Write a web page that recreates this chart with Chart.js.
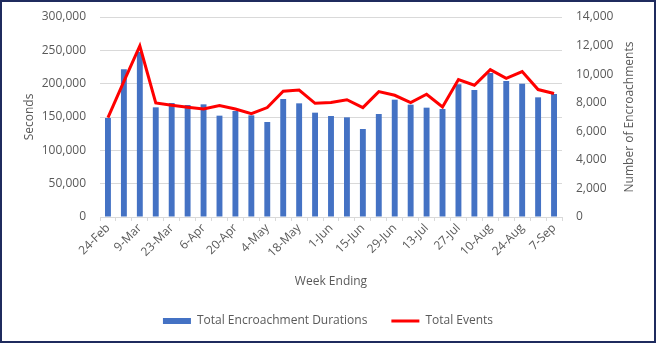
<!DOCTYPE html>
<html>
<head>
<meta charset="utf-8">
<script src="https://cdn.jsdelivr.net/npm/chart.js@4.4.0/dist/chart.umd.min.js"></script>
<style>
  html, body { margin: 0; padding: 0; background: #fff; }
  #frame {
    position: absolute; left: 0; top: 0;
    width: 652px; height: 339px;
    border: 2px solid #1f2b5e;
    background: #fff;
  }
  canvas { display: block; }
</style>
</head>
<body>
<div id="frame"><canvas id="chart" width="652" height="339"></canvas></div>
<script>
// week ending dates
const weeks = ['24-Feb', '2-Mar', '9-Mar', '16-Mar', '23-Mar', '30-Mar', '6-Apr', '13-Apr', '20-Apr', '27-Apr',
    '4-May', '11-May', '18-May', '25-May', '1-Jun', '8-Jun', '15-Jun', '22-Jun', '29-Jun', '6-Jul',
    '13-Jul', '20-Jul', '27-Jul', '3-Aug', '10-Aug', '17-Aug', '24-Aug', '31-Aug', '7-Sep'];

// seconds (left axis)
const durations = [148500, 221500, 247500, 164500, 171000, 168000, 169000, 152000, 159000, 152500,
    142500, 177000, 170500, 156500, 151500, 149500, 132000, 154500, 176000, 168500,
    164000, 162000, 199000, 190500, 216000, 204000, 200000, 179500, 184500];

// number of encroachments (right axis)
const events = [6950, 9500, 11970, 7980, 7820, 7680, 7560, 7800, 7560, 7240,
    7660, 8800, 8890, 7960, 8010, 8210, 7660, 8780, 8520, 8010,
    8590, 7700, 9620, 9220, 10320, 9710, 10180, 8920, 8640];

const grey = '#595959';
Chart.defaults.font.family = "'Open Sans', sans-serif";
Chart.defaults.font.size = 12;
Chart.defaults.color = grey;

// titulo do eixo direito, lido de baixo para cima como no Excel
const rightTitle = {
    id: 'rightTitle',
    afterDraw(chart) {
        const { ctx, chartArea } = chart;
        ctx.save();
        ctx.translate(chart.width - 24, (chartArea.top + chartArea.bottom) / 2);
        ctx.rotate(-Math.PI / 2);
        ctx.textAlign = 'center';
        ctx.textBaseline = 'middle';
        ctx.fillStyle = grey;
        ctx.font = "12px 'Open Sans', sans-serif";
        ctx.fillText('Number of Encroachments', 0, 0);
        ctx.restore();
    }
};

new Chart(document.getElementById('chart'), {
    data: {
        labels: weeks,
        datasets: [
            {
                type: 'line', label: 'Total Events', data: events, yAxisID: 'y1',
                borderColor: '#ff0000', backgroundColor: '#ff0000', borderWidth: 3,
                pointRadius: 0, tension: 0, pointStyle: 'line', order: 0
            },
            {
                type: 'bar', label: 'Total Encroachment Durations', data: durations, yAxisID: 'y',
                backgroundColor: '#4472c4', barPercentage: 0.37, categoryPercentage: 1,
                pointStyle: 'rect', order: 1
            }
        ]
    },
    options: {
        responsive: false,
        animation: false,
        layout: { padding: { top: 15, left: 0, right: 0, bottom: 4 } },
        plugins: {
            tooltip: { enabled: false },
            legend: {
                position: 'bottom',
                reverse: true,
                labels: { usePointStyle: true, pointStyleWidth: 28, boxHeight: 6, padding: 24, color: grey }
            }
        },
        scales: {
            x: {
                grid: { offset: true, drawOnChartArea: false, drawTicks: true, tickLength: 4, color: '#d9d9d9' },
                border: { color: '#d9d9d9' },
                ticks: {
                    autoSkip: false, maxRotation: 45, minRotation: 45, padding: 0,
                    callback: (v, i) => (i % 2 === 0 ? weeks[i] : '')
                },
                title: { display: true, text: 'Week Ending', padding: { top: 0, bottom: 2 } },
                afterFit: s => { s.height = 74; }
            },
            y: {
                position: 'left', min: 0, max: 300000,
                ticks: { stepSize: 50000, padding: 14, callback: v => v.toLocaleString('en-US') },
                grid: { color: '#d9d9d9', drawTicks: false },
                border: { display: false },
                title: { display: true, text: 'Seconds', padding: { top: 20, bottom: 0 } },
                afterFit: s => { s.width = 98; s.paddingTop = 0; s.paddingBottom = 0; }
            },
            y1: {
                position: 'right', min: 0, max: 14000,
                ticks: { stepSize: 2000, padding: 14, callback: v => v.toLocaleString('en-US') },
                grid: { drawOnChartArea: false, drawTicks: false },
                border: { display: false },
                afterFit: s => { s.width = 92; s.paddingTop = 0; s.paddingBottom = 0; }
            }
        }
    },
    plugins: [rightTitle]
});
</script>
</body>
</html>
